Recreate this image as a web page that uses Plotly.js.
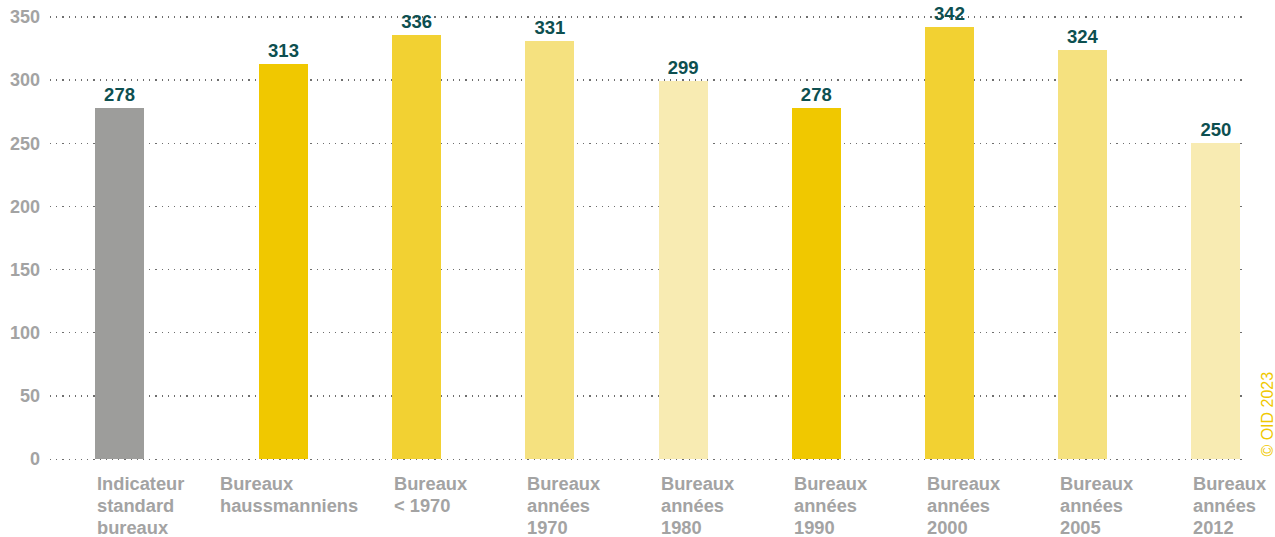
<!DOCTYPE html>
<html>
<head>
<meta charset="utf-8">
<script src="https://cdn.plot.ly/plotly-3.0.1.min.js"></script>
<style>html,body{margin:0;padding:0;background:#fff;}#chart{width:1275px;height:537px;}</style>
</head>
<body>
<div id="chart"></div>
<script>
// ---- data ----
const categories = [
  "Indicateur|standard|bureaux",
  "Bureaux|haussmanniens",
  "Bureaux|< 1970",
  "Bureaux|années|1970",
  "Bureaux|années|1980",
  "Bureaux|années|1990",
  "Bureaux|années|2000",
  "Bureaux|années|2005",
  "Bureaux|années|2012"
];
const values = [278, 313, 336, 331, 299, 278, 342, 324, 250];
const barColors = ["#9d9d9b", "#f0c800", "#f2d132", "#f5e17f", "#f8ebb2", "#f0c800", "#f2d132", "#f5e17f", "#f8ebb2"];
const yTicks = [0, 50, 100, 150, 200, 250, 300, 350];
const credit = "© OID 2023";

// ---- layout/style ----
const barWidth = 0.368;
const catShift = [-0.231, 0, 0, 0, 0, 0, 0, 0, 0];   // first bar set apart to the left
const labelShiftPx = [0, -41, 0, 0, 0, 0, 0, 0, 0];
const lineGap = 22;
const xIdx = categories.map((_, i) => i);
const FONT = "'Liberation Sans', Arial, sans-serif";

const trace = {
  type: "bar",
  x: xIdx,
  y: values,
  width: barWidth,
  offset: catShift.map(s => s - barWidth / 2),
  marker: { color: barColors, line: { width: 0 } },
  text: values.map(String),
  textposition: "outside",
  cliponaxis: false,
  textfont: { family: FONT, size: 18.5, color: "#0d4f50", weight: "bold" },
  hoverinfo: "skip"
};

const annotations = [];
categories.forEach((c, i) => {
  c.split("|").forEach((line, k) => {
    annotations.push({
      xref: "x", yref: "y",
      x: i + catShift[i], y: 0,
      xanchor: "left", yanchor: "top", align: "left",
      xshift: -24.5 + labelShiftPx[i], yshift: -12 - k * lineGap,
      text: "<b>" + line.replace(/</g, "&lt;") + "</b>",
      showarrow: false,
      font: { family: FONT, size: 18.3, color: "#a3a3a3" }
    });
  });
});
annotations.push({
  xref: "paper", yref: "y",
  x: 1.0, y: 0,
  xanchor: "center", yanchor: "bottom",
  xshift: 26, yshift: 0,
  textangle: -90,
  text: credit,
  showarrow: false,
  font: { family: FONT, size: 16, color: "#f0c800" }
});

const layout = {
  width: 1275, height: 537,
  margin: { l: 50, r: 33, t: 15, b: 76 },
  paper_bgcolor: "#fff", plot_bgcolor: "#fff",
  showlegend: false,
  xaxis: {
    type: "linear",
    range: [-0.753, 8.196],
    showticklabels: false, showgrid: false, zeroline: false, showline: false, ticks: ""
  },
  yaxis: {
    range: [-1.5, 351.5],
    tickvals: yTicks,
    ticktext: yTicks.map(v => "<b>" + v + "</b>"),
    tickfont: { family: FONT, size: 18, color: "#a3a3a3" },
    showgrid: true, gridcolor: "#6e6e6e", gridwidth: 1.2, griddash: "1.2px,5px",
    zeroline: false, showline: false, ticks: "", ticklabelstandoff: 9
  },
  annotations: annotations,
  bargap: 0
};

Plotly.newPlot("chart", [trace], layout, { displayModeBar: false, staticPlot: true });
</script>
</body>
</html>
